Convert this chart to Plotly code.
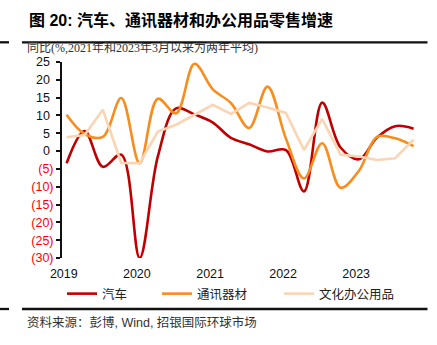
import plotly.graph_objects as go

# ---- data (quarterly points, YoY %) ----
dates = ["2019-01-15", "2019-04-15", "2019-07-15", "2019-10-15",
         "2020-01-15", "2020-04-15", "2020-07-15", "2020-10-15",
         "2021-01-15", "2021-04-15", "2021-07-15", "2021-10-15",
         "2022-01-15", "2022-04-15", "2022-07-15", "2022-10-15",
         "2023-01-15", "2023-04-15", "2023-07-15", "2023-10-15"]
auto = [-3.4, 5.6, -4.4, -1.0, -30.0, -1.5, 12.0, 10.3, 8.0, 3.7,
        1.9, -0.1, 0.3, -11.3, 13.6, 1.0, -2.3, 3.8, 7.0, 6.3]
comm = [10.2, 4.8, 4.0, 14.9, -3.4, 14.7, 10.6, 24.5, 17.3, 13.5,
        6.5, 18.1, 3.5, -7.7, 2.2, -10.3, -5.5, 4.0, 3.6, 1.4]
office = [3.9, 4.5, 11.6, -3.3, -3.4, 5.5, 7.4, 10.2, 13.0, 10.4,
          13.5, 12.2, 10.7, 0.3, 9.0, -1.0, -1.5, -2.5, -2.0, 3.2]
series_names = ["汽车", "通讯器材", "文化办公用品"]
year_ticks = ["2019-01-01", "2020-01-01", "2021-01-01", "2022-01-01", "2023-01-01"]
year_labels = ["2019", "2020", "2021", "2022", "2023"]
y_ticks = list(range(-30, 30, 5))
x_range = ["2018-12-23", "2023-11-01"]
y_range = [-30, 25]

title = "<b>图 20: 汽车、通讯器材和办公用品零售增速</b>"
subtitle = "同比(%,2021年和2023年3月以来为两年平均)"
source = "资料来源：彭博, Wind, 招银国际环球市场"

colors = ["#C00000", "#F88D1E", "#FBD4B4"]

# ---- layout geometry ----
W, H = 437, 345
L, R, T, B = 62, 20, 62, 87
PW, PH = W - L - R, H - T - B


def px(x):
    return (x - L) / PW


def py(y):
    return (H - B - y) / PH


def ylab(v):
    if v < 0:
        return f"<span style='color:#FF0000'>({-v})</span>"
    return f"{v}\u00a0"


fig = go.Figure()
for name, vals, col, lg in zip(series_names, [auto, comm, office], colors,
                               ["legend", "legend2", "legend3"]):
    fig.add_trace(go.Scatter(
        x=dates, y=vals, name=name, mode="lines",
        line=dict(color=col, width=2.6,
                  shape="linear" if name == "文化办公用品" else "spline",
                  smoothing=1.0),
        legend=lg,
    ))

legend_common = dict(orientation="h", xref="container", yref="container",
                     xanchor="left", yanchor="middle", bgcolor="rgba(0,0,0,0)",
                     itemwidth=30,
                     font=dict(family="Noto Sans CJK SC", size=12.5, color="#222"))
fig.update_layout(
    width=W, height=H,
    margin=dict(l=L, r=R, t=T, b=B, autoexpand=False),
    paper_bgcolor="white", plot_bgcolor="white",
    showlegend=True,
    legend=dict(x=62 / W, y=1 - 294 / H, **legend_common),
    legend2=dict(x=157 / W, y=1 - 294 / H, **legend_common),
    legend3=dict(x=279 / W, y=1 - 294 / H, **legend_common),
    xaxis=dict(type="date", range=x_range, tickvals=year_ticks, ticktext=year_labels,
               showgrid=False, zeroline=False, showline=False, ticks="",
               ticklabelstandoff=6,
               tickfont=dict(family="Liberation Sans", size=12.5, color="#111")),
    xaxis2=dict(type="date", range=x_range, overlaying="x", anchor="free",
                position=(0 - y_range[0]) / (y_range[1] - y_range[0]),
                tickvals=year_ticks, showticklabels=False, showgrid=False,
                zeroline=False, showline=True, linecolor="#333", linewidth=2,
                ticks="outside", ticklen=4, tickwidth=1.5, tickcolor="#333",
                layer="below traces"),
    yaxis=dict(range=y_range, tickvals=y_ticks, ticktext=[ylab(v) for v in y_ticks],
               showgrid=False, zeroline=False, showline=True, linecolor="#111",
               linewidth=2, ticks="outside", ticklen=4, tickwidth=1.5, tickcolor="#111",
               tickfont=dict(family="Liberation Sans", size=12.5, color="#111")),
)

# title, subtitle, source
fig.add_annotation(text=title, xref="paper", yref="paper", x=px(27), y=py(20),
                   xanchor="left", yanchor="middle", showarrow=False,
                   font=dict(family="Liberation Sans, Noto Sans CJK SC", size=16, color="#000"))
fig.add_annotation(text=subtitle, xref="paper", yref="paper", x=px(25), y=py(48),
                   xanchor="left", yanchor="middle", showarrow=False,
                   font=dict(family="Liberation Serif, Noto Sans CJK SC", size=12, color="#333"))
fig.add_annotation(text=source, xref="paper", yref="paper", x=px(25), y=py(322),
                   xanchor="left", yanchor="middle", showarrow=False,
                   font=dict(family="Liberation Sans, Noto Sans CJK SC", size=12.5, color="#333"))

# horizontal rules
for yy in (42.3, 309):
    fig.add_shape(type="line", xref="paper", yref="paper", x0=px(0), x1=px(9),
                  y0=py(yy), y1=py(yy), line=dict(color="#111", width=2.3))
    fig.add_shape(type="line", xref="paper", yref="paper", x0=px(22), x1=px(427.5),
                  y0=py(yy), y1=py(yy), line=dict(color="#111", width=2.3))

fig.write_html("out.html")
